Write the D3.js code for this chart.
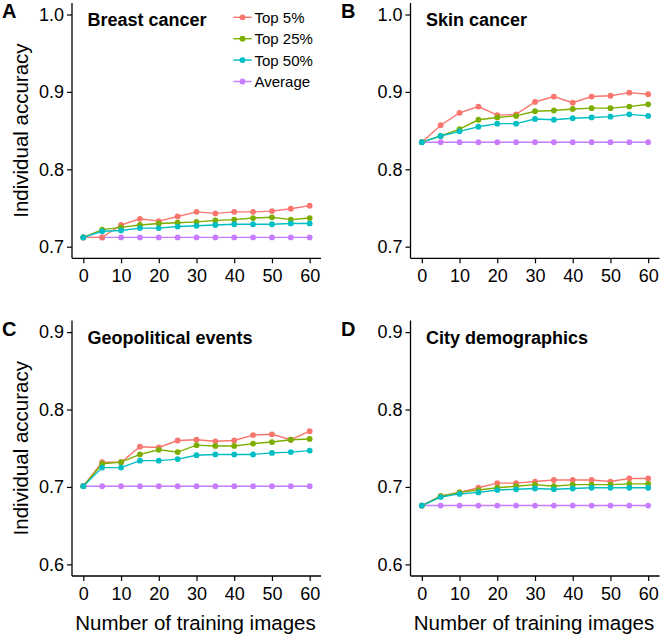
<!DOCTYPE html>
<html>
<head>
<meta charset="utf-8">
<script src="https://cdn.jsdelivr.net/npm/d3@7"></script>
<style>
  html, body { margin: 0; padding: 0; background: #fff; }
  svg { display: block; }
  text { font-family: "Liberation Sans", Arial, sans-serif; fill: #000; }
</style>
</head>
<body>
<svg id="chart" width="660" height="636"></svg>
<script>
// ---------- data ----------
const trainingImages = [0, 5, 10, 15, 20, 25, 30, 35, 40, 45, 50, 55, 60];
const seriesNames = ["Top 5%", "Top 25%", "Top 50%", "Average"];
const seriesColors = ["#F8766D", "#7CAE00", "#00BFC4", "#C77CFF"];

const breastTop5  = [0.712, 0.712, 0.728, 0.736, 0.733, 0.739, 0.745, 0.743, 0.745, 0.745, 0.746, 0.749, 0.753];
const breastTop25 = [0.712, 0.722, 0.725, 0.728, 0.730, 0.731, 0.732, 0.734, 0.735, 0.737, 0.738, 0.735, 0.737];
const breastTop50 = [0.712, 0.720, 0.721, 0.724, 0.724, 0.726, 0.727, 0.728, 0.729, 0.729, 0.729, 0.730, 0.730];
const breastAvg   = [0.712, 0.712, 0.712, 0.712, 0.712, 0.712, 0.712, 0.712, 0.712, 0.712, 0.712, 0.712, 0.712];

const skinTop5  = [0.835, 0.857, 0.873, 0.881, 0.870, 0.871, 0.887, 0.894, 0.886, 0.894, 0.895, 0.899, 0.897];
const skinTop25 = [0.835, 0.843, 0.852, 0.864, 0.867, 0.869, 0.875, 0.876, 0.878, 0.879, 0.879, 0.881, 0.884];
const skinTop50 = [0.835, 0.843, 0.849, 0.855, 0.859, 0.859, 0.865, 0.864, 0.866, 0.867, 0.868, 0.871, 0.869];
const skinAvg   = [0.835, 0.835, 0.835, 0.835, 0.835, 0.835, 0.835, 0.835, 0.835, 0.835, 0.835, 0.835, 0.835];

const geoTop5  = [0.701, 0.732, 0.732, 0.752, 0.751, 0.760, 0.761, 0.759, 0.760, 0.767, 0.768, 0.761, 0.772];
const geoTop25 = [0.701, 0.730, 0.732, 0.742, 0.748, 0.745, 0.754, 0.753, 0.753, 0.756, 0.758, 0.761, 0.762];
const geoTop50 = [0.701, 0.725, 0.725, 0.734, 0.734, 0.736, 0.741, 0.742, 0.742, 0.742, 0.744, 0.745, 0.747];
const geoAvg   = [0.701, 0.701, 0.701, 0.701, 0.701, 0.701, 0.701, 0.701, 0.701, 0.701, 0.701, 0.701, 0.701];

const cityTop5  = [0.676, 0.688, 0.693, 0.699, 0.705, 0.705, 0.707, 0.709, 0.709, 0.709, 0.707, 0.711, 0.711];
const cityTop25 = [0.676, 0.688, 0.693, 0.696, 0.699, 0.701, 0.703, 0.701, 0.703, 0.703, 0.703, 0.704, 0.704];
const cityTop50 = [0.676, 0.687, 0.691, 0.693, 0.696, 0.697, 0.698, 0.697, 0.698, 0.699, 0.699, 0.699, 0.699];
const cityAvg   = [0.676, 0.676, 0.676, 0.676, 0.676, 0.676, 0.676, 0.676, 0.676, 0.676, 0.676, 0.676, 0.676];

const xTicks = [0, 10, 20, 30, 40, 50, 60];
const yTicksTop = [0.7, 0.8, 0.9, 1.0];
const yTicksBottom = [0.6, 0.7, 0.8, 0.9];

const panelLetters = ["A", "B", "C", "D"];
const panelTitles = ["Breast cancer", "Skin cancer", "Geopolitical events", "City demographics"];
const yAxisTitle = "Individual accuracy";
const xAxisTitle = "Number of training images";

// ---------- layout ----------
const svg = d3.select("#chart");
const panels = [
  { letter: panelLetters[0], title: panelTitles[0], series: [breastTop5, breastTop25, breastTop50, breastAvg],
    yDomain: [0.685, 1.015], yTicks: yTicksTop, left: 72, right: 321, top: 2.9, bottom: 258.3, yTitle: true, xTitle: false, legend: true },
  { letter: panelLetters[1], title: panelTitles[1], series: [skinTop5, skinTop25, skinTop50, skinAvg],
    yDomain: [0.685, 1.015], yTicks: yTicksTop, left: 410.5, right: 659.5, top: 2.9, bottom: 258.3, yTitle: false, xTitle: false, legend: false },
  { letter: panelLetters[2], title: panelTitles[2], series: [geoTop5, geoTop25, geoTop50, geoAvg],
    yDomain: [0.585, 0.915], yTicks: yTicksBottom, left: 72, right: 321, top: 320.5, bottom: 576, yTitle: true, xTitle: true, legend: false },
  { letter: panelLetters[3], title: panelTitles[3], series: [cityTop5, cityTop25, cityTop50, cityAvg],
    yDomain: [0.585, 0.915], yTicks: yTicksBottom, left: 410.5, right: 659.5, top: 320.5, bottom: 576, yTitle: false, xTitle: true, legend: false }
];

// draw order: Average first, then Top 5%, Top 25%, Top 50%
const drawOrder = [3, 0, 1, 2];

panels.forEach(p => {
  const g = svg.append("g");
  const x = d3.scaleLinear().domain([-3, 63]).range([p.left, p.right]);
  const y = d3.scaleLinear().domain(p.yDomain).range([p.bottom, p.top]);

  // x axis
  const xAxis = g.append("g")
    .attr("transform", `translate(0,${p.bottom})`)
    .call(d3.axisBottom(x).tickValues(xTicks).tickSize(5).tickPadding(6).tickFormat(d3.format("d")));
  xAxis.select(".domain").attr("d", `M${p.left},0H${p.right}`).attr("stroke", "#000").attr("stroke-width", 1.3);
  xAxis.selectAll(".tick line").attr("stroke", "#000").attr("stroke-width", 1.2);
  xAxis.selectAll(".tick text").attr("font-size", 18).attr("fill", "#000")
    .attr("font-family", "Liberation Sans, Arial, sans-serif");

  // y axis
  const yAxis = g.append("g")
    .attr("transform", `translate(${p.left},0)`)
    .call(d3.axisLeft(y).tickValues(p.yTicks).tickSize(5).tickPadding(3).tickFormat(d3.format(".1f")));
  yAxis.select(".domain").attr("d", `M0,${p.top}V${p.bottom}`).attr("stroke", "#000").attr("stroke-width", 1.3);
  yAxis.selectAll(".tick line").attr("stroke", "#000").attr("stroke-width", 1.2);
  yAxis.selectAll(".tick text").attr("font-size", 18).attr("fill", "#000")
    .attr("font-family", "Liberation Sans, Arial, sans-serif");

  // lines
  const line = d3.line().x((d, i) => x(trainingImages[i])).y(d => y(d));
  drawOrder.forEach(si => {
    g.append("path").datum(p.series[si])
      .attr("d", line).attr("fill", "none")
      .attr("stroke", seriesColors[si]).attr("stroke-width", 1.4);
  });
  // points
  drawOrder.forEach(si => {
    g.append("g").selectAll("circle").data(p.series[si]).join("circle")
      .attr("cx", (d, i) => x(trainingImages[i])).attr("cy", d => y(d))
      .attr("r", 2.9).attr("fill", seriesColors[si]);
  });

  // panel title
  g.append("text").attr("x", p.left + 15.5).attr("y", p.top + 23.2)
    .attr("font-size", 18).attr("font-weight", "bold").text(p.title);

  // panel letter
  g.append("text").attr("x", p.left < 200 ? 2 : 341).attr("y", p.top + 15.5)
    .attr("font-size", 20).attr("font-weight", "bold").text(p.letter);

  // y axis title
  if (p.yTitle) {
    g.append("text")
      .attr("transform", `translate(28,${(p.top + p.bottom) / 2}) rotate(-90)`)
      .attr("text-anchor", "middle").attr("font-size", 20.5).text(yAxisTitle);
  }
  // x axis title
  if (p.xTitle) {
    g.append("text").attr("x", (p.left + p.right) / 2 - 1).attr("y", 630)
      .attr("text-anchor", "middle").attr("font-size", 20.5).text(xAxisTitle);
  }

  // legend
  if (p.legend) {
    const lg = g.append("g");
    seriesNames.forEach((name, i) => {
      const cy = 17.3 + i * 21.4;
      lg.append("line").attr("x1", 233.3).attr("x2", 251.7).attr("y1", cy).attr("y2", cy)
        .attr("stroke", seriesColors[i]).attr("stroke-width", 1.4);
      lg.append("circle").attr("cx", 242.5).attr("cy", cy).attr("r", 2.9).attr("fill", seriesColors[i]);
      lg.append("text").attr("x", 254.5).attr("y", cy).attr("dy", "0.36em")
        .attr("font-size", 15).text(name);
    });
  }
});
</script>
</body>
</html>
